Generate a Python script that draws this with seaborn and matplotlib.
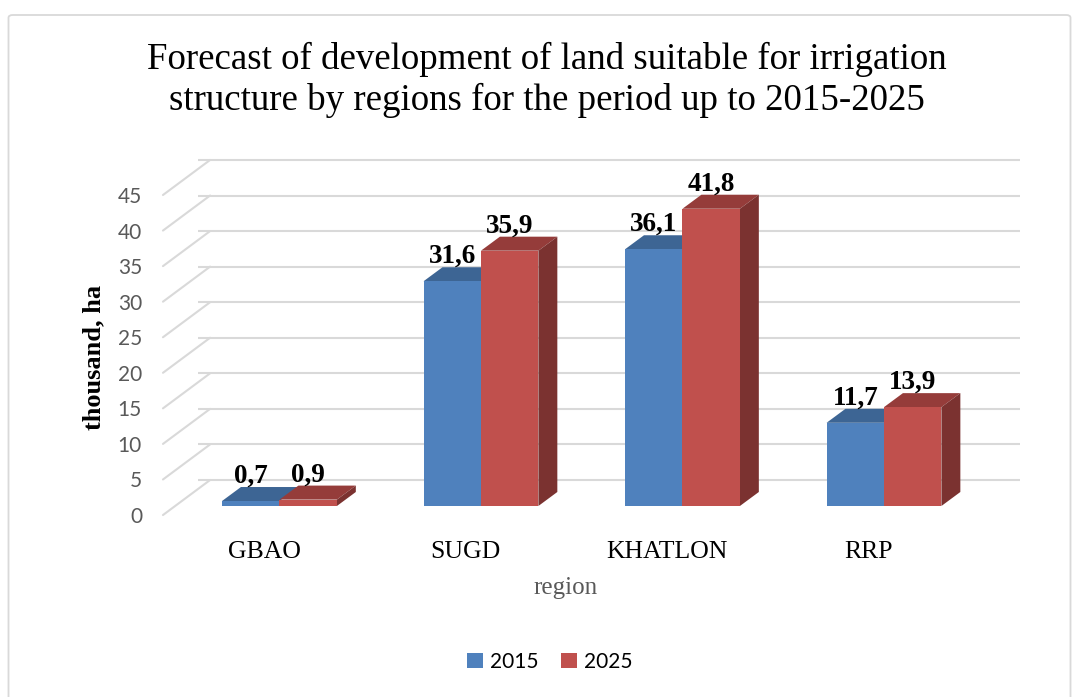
import matplotlib
matplotlib.use("Agg")
import numpy as np
import pandas as pd
import matplotlib.pyplot as plt
import matplotlib.transforms as mtransforms
from matplotlib.patches import Polygon, Patch, FancyBboxPatch
import seaborn as sns

# Chart data
regions = ["GBAO", "SUGD", "KHATLON", "RRP"]
years = ["2015", "2025"]
values_2015 = [0.7, 31.6, 36.1, 11.7]
values_2025 = [0.9, 35.9, 41.8, 13.9]
y_ticks = [0, 5, 10, 15, 20, 25, 30, 35, 40, 45]

df = pd.DataFrame({
    "region": regions * 2,
    "year": [years[0]] * len(regions) + [years[1]] * len(regions),
    "value": values_2015 + values_2025,
})

front_colors = ["#4F81BD", "#C0504D"]
top_colors = ["#3D6594", "#953C3A"]
side_colors = ["#34557E", "#7B3230"]
grid_color = "#D9D9D9"

# pseudo-3D offsets, in data units (relative to the bars' front plane)
BAR_DX, BAR_DY = 0.094, 1.97      # depth of a bar
WALL_DX, WALL_DY = 0.174, 3.66    # back wall
FLOOR_DX, FLOOR_DY = -0.06, -1.27 # front edge of the floor

serif = "Liberation Serif"
sans = "Lato"

sns.set_style("white")
plt.rcParams["font.family"] = [serif, "DejaVu Serif"]
plt.rcParams["text.color"] = "black"

fig = plt.figure(figsize=(10.73, 6.97), dpi=100)
ax = fig.add_axes([0.144, 0.2577, 0.8113, 0.5214])

sns.barplot(data=df, x="region", y="value", hue="year", order=regions,
            hue_order=years, palette=front_colors, saturation=1,
            width=0.57, errorbar=None, ax=ax, zorder=2, linewidth=0)

ax.set_xlim(-0.62, 3.70)
ax.set_ylim(-1.6, 49.5)
for s in ax.spines.values():
    s.set_visible(False)
ax.get_legend().remove()

# back wall gridlines and the receding lines on the left side wall
x_left = ax.get_xlim()[0] + 0.042
x_right = 3.675
for v in y_ticks:
    ax.plot([x_left + WALL_DX, x_right], [v + WALL_DY, v + WALL_DY],
            color=grid_color, lw=1.5, zorder=0.5, solid_capstyle="butt")
    ax.plot([x_left, x_left + WALL_DX - FLOOR_DX],
            [v + FLOOR_DY, v + WALL_DY],
            color=grid_color, lw=1.5, zorder=0.5)

# top and side faces of the bars, plus value labels
for i, cont in enumerate(ax.containers):
    for rect in cont:
        x0, w, h = rect.get_x(), rect.get_width(), rect.get_height()
        top = Polygon([(x0, h), (x0 + w, h), (x0 + w + BAR_DX, h + BAR_DY),
                       (x0 + BAR_DX, h + BAR_DY)], closed=True,
                      facecolor=top_colors[i], edgecolor="none", zorder=1.5)
        ax.add_patch(top)
        if i == len(ax.containers) - 1:
            side = Polygon([(x0 + w, 0), (x0 + w + BAR_DX, BAR_DY),
                            (x0 + w + BAR_DX, h + BAR_DY), (x0 + w, h)],
                           closed=True, facecolor=side_colors[i],
                           edgecolor="none", zorder=1.5)
            ax.add_patch(side)
        ax.text(x0 + w / 2, h + BAR_DY - 0.25, f"{h:.1f}".replace(".", ","),
                ha="center", va="bottom", fontsize=19.5, fontweight="bold",
                family=serif, color="black", zorder=3)

# axes ticks
ax.set_yticks(y_ticks)
ax.set_yticklabels([str(t) for t in y_ticks], family=sans, fontsize=15,
                   color="#595959")
ax.tick_params(axis="y", length=0, pad=9)
ax.tick_params(axis="x", length=0, pad=17)
ax.set_xticks(range(len(regions)))
ax.set_xticklabels(regions, family=serif, fontsize=18.5, color="black")
ax.set_xlabel("")
ax.set_ylabel("")

shift_y = mtransforms.ScaledTranslation(0, -9 / 100, fig.dpi_scale_trans)
for lbl in ax.get_yticklabels():
    lbl.set_transform(lbl.get_transform() + shift_y)
shift_x = mtransforms.ScaledTranslation(-15.5 / 100, 0, fig.dpi_scale_trans)
for lbl in ax.get_xticklabels():
    lbl.set_transform(lbl.get_transform() + shift_x)

# titles
fig.text(547 / 1073, 1 - 80 / 697,
         "Forecast of development of land suitable for irrigation\n"
         "structure by regions for the period up to 2015-2025",
         ha="center", va="center", fontsize=26.6, family=serif,
         linespacing=1.2, color="black")
fig.text(94 / 1073, 1 - 357 / 697, "thousand, ha", rotation=90,
         ha="center", va="center", fontsize=19, fontweight="bold",
         family=serif, color="black")
fig.text(566 / 1073, 1 - 588 / 697, "region", ha="center", va="center",
         fontsize=18, family=serif, color="#595959")

# legend
handles = [Patch(facecolor=c, edgecolor="none") for c in front_colors]
fig.legend(handles, years, loc="center",
           bbox_to_anchor=(550 / 1073, 1 - 662 / 697), ncol=2,
           frameon=False, prop={"family": sans, "size": 15},
           handlelength=0.75, handleheight=0.75, handletextpad=0.35,
           columnspacing=1.1, labelcolor="black")

# chart border
border = FancyBboxPatch((8.5 / 1073, -0.02), 1062 / 1073, 1 - 15 / 697 + 0.02,
                        boxstyle="round,pad=0,rounding_size=0.004",
                        transform=fig.transFigure, fill=False,
                        edgecolor=grid_color, lw=1.3)
fig.patches.append(border)

fig.savefig("out.png", dpi=100)
